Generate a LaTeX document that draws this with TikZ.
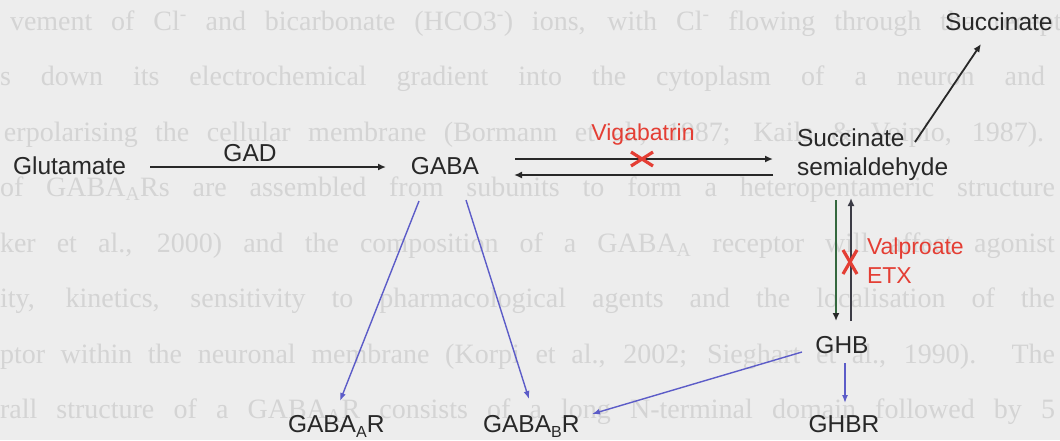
\documentclass[tikz,border=0pt]{standalone}
\usepackage{fontspec}
\setmainfont{Liberation Sans}
\newfontfamily\bgserif{Liberation Serif}
\usetikzlibrary{arrows.meta,shapes.misc}
\definecolor{bgc}{RGB}{237,237,237}
\definecolor{ghost}{RGB}{212,212,212}
\definecolor{ink}{RGB}{40,40,40}
\definecolor{redx}{RGB}{228,62,52}
\definecolor{bluel}{RGB}{92,92,200}
\definecolor{greenl}{RGB}{52,104,62}
\definecolor{darkl}{RGB}{60,60,70}
\newcommand\lowsub[1]{\raisebox{-5pt}{\fontsize{16}{16}\selectfont #1}}
\begin{document}
\begin{tikzpicture}[x=1pt,y=-1pt,
  lbl/.style={inner sep=0pt,outer sep=0pt,text=ink,font=\fontsize{24.5}{29}\selectfont},
  redlbl/.style={inner sep=0pt,outer sep=0pt,text=redx,font=\fontsize{23}{29}\selectfont},
  ghostline/.style={inner sep=0pt,outer sep=0pt,anchor=base west,text=ghost,font=\bgserif\fontsize{28}{34}\selectfont},
  blk/.style={draw=ink,line width=1.8pt,-{Latex[length=8pt,width=7pt]}},
  blu/.style={draw=bluel,line width=1.4pt,-{Latex[length=8pt,width=6pt]}},
  xmark/.style={cross out,draw=redx,line width=3.2pt,inner sep=0pt,outer sep=0pt}]
\fill[bgc] (0,0) rectangle (1060,440);
\useasboundingbox (0,0) rectangle (1060,440);

% faint show-through text of the scanned page
\node[ghostline] (g1) at (10,30) {\makebox[1075pt][s]{vement of Cl\textsuperscript{-} and bicarbonate (HCO3\textsuperscript{-}) ions, with Cl\textsuperscript{-} flowing through the receptor}};
\node[ghostline] (g2) at (0,85) {\makebox[1045pt][s]{s down its electrochemical gradient into the cytoplasm of a neuron and}};
\node[ghostline] (g3) at (4,141) {\makebox[1040pt][s]{erpolarising the cellular membrane (Bormann et al., 1987; Kaila \& Voipio, 1987).}};
\node[ghostline] (g4) at (0,196) {\makebox[1055pt][s]{of GABA\textsubscript{A}Rs are assembled from subunits to form a heteropentameric structure}};
\node[ghostline] (g5) at (0,252) {\makebox[1055pt][s]{ker et al., 2000) and the composition of a GABA\textsubscript{A} receptor will affect agonist}};
\node[ghostline] (g6) at (0,307) {\makebox[1055pt][s]{ity, kinetics, sensitivity to pharmacological agents and the localisation of the}};
\node[ghostline] (g7) at (0,363) {\makebox[1055pt][s]{ptor within the neuronal membrane (Korpi et al., 2002; Sieghart et al., 1990). The}};
\node[ghostline] (g8) at (0,418) {\makebox[1055pt][s]{rall structure of a GABA\textsubscript{A}R consists of a long N-terminal domain followed by 5}};

% labels
\node[lbl,anchor=base west] (glu) at (13,174) {Glutamate};
\node[lbl,anchor=base] (gad) at (250,161.5) {GAD};
\node[lbl,anchor=base] (gaba) at (445,174) {GABA};
\node[redlbl,anchor=base] (vig) at (643,140) {Vigabatrin};
\node[lbl,anchor=north west,align=left] (ssa) at (797,129) {Succinate\\semialdehyde};
\node[lbl,anchor=base west] (succ) at (945,30) {Succinate};
\node[redlbl,anchor=north west,align=left] (val) at (867,238) {Valproate\\ETX};
\node[lbl,anchor=base] (ghb) at (842,353) {GHB};
\node[lbl,anchor=base] (ghbr) at (844,432) {GHBR};
\node[lbl,anchor=base west] (gabaar) at (288,432) {GABA\lowsub{A}R};
\node[lbl,anchor=base west] (gababr) at (483,432) {GABA\lowsub{B}R};

% connectors
\draw[blk] ([xshift=137pt,yshift=7pt]glu.base west) -- ([xshift=-59pt,yshift=7pt]gaba.base);
\draw[blk] ([xshift=70pt,yshift=15pt]gaba.base) -- ([xshift=-24pt,yshift=-30pt]ssa.north west);
\draw[blk] ([xshift=-24pt,yshift=-46pt]ssa.north west) -- ([xshift=69pt,yshift=-1pt]gaba.base);
\draw[blk] ([xshift=118pt,yshift=-13pt]ssa.north west) -- ([xshift=36pt,yshift=-14pt]succ.base west);
\draw[draw=greenl,line width=1.8pt,-{Latex[length=8pt,width=7pt,color=ink]}] ([xshift=39pt,yshift=-71pt]ssa.north west) -- ([xshift=-6pt,yshift=32pt]ghb.base);
\draw[draw=darkl,line width=1.8pt,-{Latex[length=8pt,width=7pt]}] ([xshift=9pt,yshift=32pt]ghb.base) -- ([xshift=54pt,yshift=-69pt]ssa.north west);
\draw[blu] ([xshift=-26pt,yshift=-27pt]gaba.base) -- ([xshift=52pt,yshift=31pt]gabaar.base west);
\draw[blu] ([xshift=21pt,yshift=-26pt]gaba.base) -- ([xshift=46pt,yshift=33pt]gababr.base west);
\draw[blu] ([xshift=-40pt,yshift=1pt]ghb.base) -- ([xshift=109pt,yshift=18pt]gababr.base west);
\draw[blu] ([xshift=3pt,yshift=-10pt]ghb.base) -- ([xshift=1pt,yshift=29pt]ghbr.base);

% inhibition marks
\node[xmark,minimum width=22pt,minimum height=14pt] (vigx) at (642,159) {};
\node[xmark,minimum width=14pt,minimum height=24pt] (valx) at (850,262) {};
\end{tikzpicture}
\end{document}
